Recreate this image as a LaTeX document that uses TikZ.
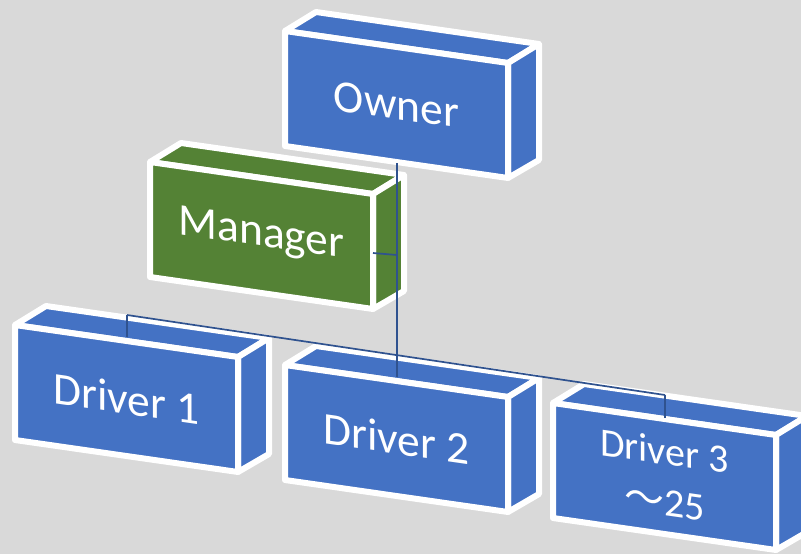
\documentclass[tikz,border=0pt]{standalone}
\usepackage{fontspec}
\setmainfont{Carlito}
\newfontfamily\cjk{Noto Sans CJK JP}
\definecolor{bgcol}{HTML}{D9D9D9}
\definecolor{boxblue}{HTML}{4472C4}
\definecolor{boxgreen}{HTML}{548235}
\definecolor{linkcol}{HTML}{2F528F}
\tikzset{
  boxedge/.style={draw=white, line width=6pt, line join=round},
  boxtext/.style={text=white, font=\fontsize{45.5}{50}\selectfont, align=center, yslant=-0.144, inner sep=0pt},
  link/.style={draw=linkcol, line width=1.7pt}
}
% A box seen in perspective: top face, right face, front face and its label.
% #1 node name, #2/#3 front top-left corner, #4 fill colour, #5 label, #6 extra text style
\newcommand\orgbox[6]{%
  \begin{scope}[shift={(#2,#3)}]
    \filldraw[boxedge, fill=#4] (0,0) -- (31,-19) -- (254,13) -- (223,32) -- cycle;
    \filldraw[boxedge, fill=#4] (223,32) -- (254,13) -- (254,129) -- (223,147) -- cycle;
    \filldraw[boxedge, fill=#4] (0,0) -- (223,32) -- (223,147) -- (0,115) -- cycle;
    \node[boxtext, #6] (#1) at (111.5,73.5) {#5};
  \end{scope}}
\begin{document}
\begin{tikzpicture}[x=1pt, y=-1pt]
  \fill[bgcol] (0,0) rectangle (801,554);
  \useasboundingbox (0,0) rectangle (801,554);

  \orgbox{owner}{285}{31}{boxblue}{Owner}{}
  \orgbox{manager}{150}{162}{boxgreen}{Manager}{}
  \orgbox{driverA}{15}{325}{boxblue}{Driver 1}{}
  \orgbox{driverB}{285}{365}{boxblue}{Driver 2}{}
  \orgbox{driverC}{553}{403}{boxblue}{Driver 3\\{\cjk ～}25}{font=\fontsize{40}{51}\selectfont}

  % connector end points on the boxes
  \coordinate (ownerbot) at (397,163);
  \coordinate (mgrside) at (373,253);
  \coordinate (mgrjoin) at (397,255);
  \coordinate (busL) at (127,315);
  \coordinate (busR) at (665,395);
  \coordinate (d1top) at (127,337);
  \coordinate (d2top) at (397,377);
  \coordinate (d3top) at (665,418);

  \draw[link] (ownerbot) -- (d2top);
  \draw[link] (mgrside) -- (mgrjoin);
  \draw[link] (busL) -- (busR);
  \draw[link] (busL) -- (d1top);
  \draw[link] (busR) -- (d3top);
\end{tikzpicture}
\end{document}
